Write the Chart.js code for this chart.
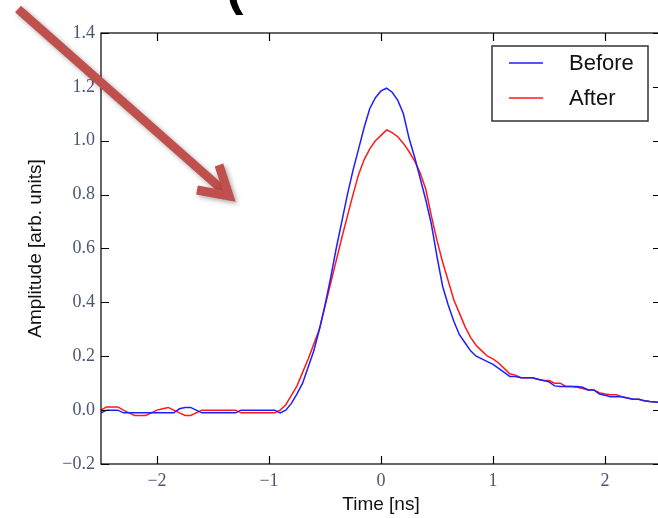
<!DOCTYPE html>
<html>
<head>
<meta charset="utf-8">
<script src="https://cdn.jsdelivr.net/npm/chart.js@4.4.1/dist/chart.umd.min.js"></script>
<style>
  html, body { margin: 0; padding: 0; background: #fff; overflow: hidden; }
  #wrap { position: relative; width: 658px; height: 518px; overflow: hidden; }
  #paren { position: absolute; left: 226px; top: -44px; font: bold 52px "Liberation Sans", Arial, sans-serif; color: #000; line-height: 60px; }
</style>
</head>
<body>
<div id="wrap">
  <canvas id="myChart" width="664" height="518"></canvas>
  <div id="paren">(</div>
</div>
<script>
// data

var times = [
  -2.50, -2.45, -2.40, -2.35, -2.30, -2.25, -2.20, -2.15, -2.10, -2.05,
  -2.00, -1.95, -1.90, -1.85, -1.80, -1.75, -1.70, -1.65, -1.60, -1.55,
  -1.50, -1.45, -1.40, -1.35, -1.30, -1.25, -1.20, -1.15, -1.10, -1.05,
  -1.00, -0.95, -0.90, -0.85, -0.80, -0.75, -0.70, -0.65, -0.60, -0.55,
  -0.50, -0.45, -0.40, -0.35, -0.30, -0.25, -0.20, -0.15, -0.10, -0.05,
  0.00, 0.05, 0.10, 0.15, 0.20, 0.25, 0.30, 0.35, 0.40, 0.45,
  0.50, 0.55, 0.60, 0.65, 0.70, 0.75, 0.80, 0.85, 0.90, 0.95,
  1.00, 1.05, 1.10, 1.15, 1.20, 1.25, 1.30, 1.35, 1.40, 1.45,
  1.50, 1.55, 1.60, 1.65, 1.70, 1.75, 1.80, 1.85, 1.90, 1.95,
  2.00, 2.05, 2.10, 2.15, 2.20, 2.25, 2.30, 2.35, 2.40, 2.45,
  2.50
];

var before = [
  -0.01, 0.0, 0.0, 0.0, -0.01, -0.01, -0.01, -0.01, -0.01, -0.01,
  -0.01, -0.01, -0.01, -0.01, 0.005, 0.01, 0.01, 0.0, -0.01, -0.01,
  -0.01, -0.01, -0.01, -0.01, -0.01, 0.0, 0.0, 0.0, 0.0, 0.0,
  0.0, 0.0, -0.01, 0.0, 0.025, 0.06, 0.10, 0.16, 0.22, 0.30,
  0.39, 0.49, 0.60, 0.70, 0.80, 0.89, 0.97, 1.05, 1.12, 1.16,
  1.185, 1.195, 1.18, 1.15, 1.10, 1.01, 0.94, 0.86, 0.78, 0.69,
  0.57, 0.46, 0.39, 0.33, 0.28, 0.25, 0.22, 0.20, 0.19, 0.18,
  0.17, 0.155, 0.14, 0.125, 0.125, 0.12, 0.12, 0.12, 0.115, 0.11,
  0.105, 0.09, 0.088, 0.088, 0.088, 0.088, 0.085, 0.075, 0.075, 0.06,
  0.055, 0.05, 0.05, 0.05, 0.045, 0.04, 0.04, 0.035, 0.032, 0.03,
  0.028
];

var after = [
  0.0, 0.012, 0.012, 0.012, 0.0, -0.01, -0.02, -0.02, -0.02, -0.01,
  0.0, 0.005, 0.01, 0.0, -0.01, -0.02, -0.02, -0.01, 0.0, 0.0,
  0.0, 0.0, 0.0, 0.0, 0.0, -0.01, -0.01, -0.01, -0.01, -0.01,
  -0.01, -0.01, 0.0, 0.02, 0.055, 0.09, 0.14, 0.19, 0.245, 0.30,
  0.385, 0.47, 0.555, 0.64, 0.72, 0.80, 0.875, 0.93, 0.97, 1.00,
  1.02, 1.04, 1.03, 1.015, 0.99, 0.96, 0.925, 0.88, 0.82, 0.72,
  0.63, 0.55, 0.48, 0.41, 0.36, 0.31, 0.27, 0.24, 0.22, 0.20,
  0.19, 0.175, 0.155, 0.135, 0.13, 0.12, 0.12, 0.12, 0.115, 0.11,
  0.11, 0.10, 0.10, 0.088, 0.088, 0.085, 0.08, 0.075, 0.075, 0.065,
  0.06, 0.057, 0.057, 0.05, 0.045, 0.04, 0.04, 0.035, 0.032, 0.03,
  0.028
];

var seriesNames = ['Before', 'After'];
var xTicks = [-2, -1, 0, 1, 2];
var yTicks = [-0.2, 0.0, 0.2, 0.4, 0.6, 0.8, 1.0, 1.2, 1.4];

function pairUp(vals) {
    return times.map(function (t, i) { return { x: t, y: vals[i] }; });
}

function minus(s) {
    return s.replace('-', '\u2212');
}

var tickColor = '#4a5672';
var serif = '"Liberation Serif", "DejaVu Serif", serif';
var sans = '"Liberation Sans", Arial, sans-serif';

// matplotlib style frame: box round the plot, ticks pointing inwards
var framePlugin = {
    id: 'frame',
    afterDatasetsDraw: function (chart) {
        var ctx = chart.ctx;
        var a = chart.chartArea;
        var xs = chart.scales.x, ys = chart.scales.y;
        ctx.save();
        ctx.strokeStyle = '#000';
        ctx.lineWidth = 1.2;
        ctx.strokeRect(a.left, a.top, a.right - a.left, a.bottom - a.top);
        ctx.beginPath();
        xTicks.forEach(function (v) {
            var px = Math.round(xs.getPixelForValue(v)) + 0.5;
            ctx.moveTo(px, a.bottom); ctx.lineTo(px, a.bottom - 8);
            ctx.moveTo(px, a.top); ctx.lineTo(px, a.top + 8);
        });
        yTicks.forEach(function (v) {
            var py = Math.round(ys.getPixelForValue(v)) + 0.5;
            ctx.moveTo(a.left, py); ctx.lineTo(a.left + 8, py);
            ctx.moveTo(a.right, py); ctx.lineTo(a.right - 8, py);
        });
        ctx.stroke();

        // legend, upper right
        var bw = 156, bh = 75;
        var bx = a.right - 13 - bw, by = a.top + 13;
        ctx.fillStyle = '#fff';
        ctx.fillRect(bx, by, bw, bh);
        ctx.strokeStyle = '#333';
        ctx.lineWidth = 1.5;
        ctx.strokeRect(bx, by, bw, bh);
        ctx.font = '22px ' + sans;
        ctx.textBaseline = 'middle';
        chart.data.datasets.forEach(function (ds, i) {
            var ly = by + 17 + i * 35;
            ctx.strokeStyle = ds.borderColor;
            ctx.lineWidth = 1.5;
            ctx.beginPath();
            ctx.moveTo(bx + 17, ly); ctx.lineTo(bx + 51, ly);
            ctx.stroke();
            ctx.fillStyle = '#111';
            ctx.fillText(ds.label, bx + 77, ly + 1);
        });
        ctx.restore();
    },
    afterDraw: function (chart) {
        // the red pointer arrow pasted over the figure
        var ctx = chart.ctx;
        ctx.save();
        ctx.shadowColor = 'rgba(0,0,0,0.35)';
        ctx.shadowBlur = 5;
        ctx.shadowOffsetX = 2;
        ctx.shadowOffsetY = 2;
        ctx.strokeStyle = '#c0504d';
        ctx.lineWidth = 9;
        ctx.lineCap = 'butt';
        ctx.lineJoin = 'miter';
        ctx.beginPath();
        ctx.moveTo(18, 9);
        ctx.lineTo(226, 193);
        ctx.stroke();
        ctx.beginPath();
        ctx.moveTo(197, 190);
        ctx.lineTo(229, 196);
        ctx.lineTo(219, 165);
        ctx.stroke();
        ctx.restore();
    }
};

var ctx = document.getElementById('myChart').getContext('2d');
var chart = new Chart(ctx, {
    type: 'line',
    data: {
        datasets: [{
            label: seriesNames[0],
            data: pairUp(before),
            borderColor: 'rgb(30, 30, 255)',
            borderWidth: 1.5,
            pointRadius: 0,
            tension: 0,
            fill: false
        }, {
            label: seriesNames[1],
            data: pairUp(after),
            borderColor: 'rgb(255, 25, 25)',
            borderWidth: 1.5,
            pointRadius: 0,
            tension: 0,
            fill: false
        }]
    },
    options: {
        responsive: false,
        animation: false,
        devicePixelRatio: 1,
        layout: { padding: { left: 0, top: 33, right: 3, bottom: 0 } },
        plugins: {
            legend: { display: false },
            tooltip: { enabled: false }
        },
        scales: {
            x: {
                type: 'linear',
                min: -2.5,
                max: 2.5,
                afterFit: function (scale) { scale.height = 54; },
                afterBuildTicks: function (scale) {
                    scale.ticks = xTicks.map(function (v) { return { value: v }; });
                },
                grid: { display: false, drawTicks: false },
                border: { display: false },
                ticks: {
                    padding: 6,
                    color: tickColor,
                    font: { family: serif, size: 18 },
                    maxRotation: 0,
                    callback: function (v) { return minus(String(v)); }
                },
                title: {
                    display: true,
                    text: 'Time [ns]',
                    color: '#111',
                    font: { family: sans, size: 19 },
                    padding: { top: 0, bottom: 2 }
                }
            },
            y: {
                min: -0.2,
                max: 1.4,
                afterFit: function (scale) { scale.width = 101; },
                afterBuildTicks: function (scale) {
                    scale.ticks = yTicks.map(function (v) { return { value: v }; });
                },
                grid: { display: false, drawTicks: false },
                border: { display: false },
                ticks: {
                    padding: 6,
                    color: tickColor,
                    font: { family: serif, size: 18 },
                    callback: function (v) { return minus(Number(v).toFixed(1)); }
                },
                title: {
                    display: true,
                    text: 'Amplitude [arb. units]',
                    color: '#111',
                    font: { family: sans, size: 19 },
                    padding: { top: 24, bottom: 0 }
                }
            }
        }
    },
    plugins: [framePlugin]
});
</script>
</body>
</html>
